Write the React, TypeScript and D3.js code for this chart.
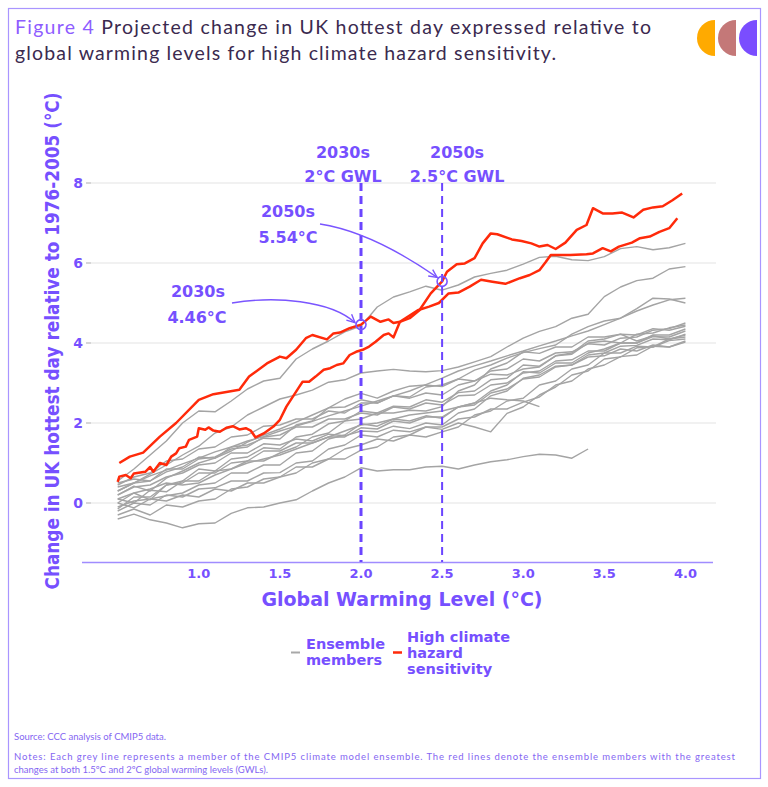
import React from "react";
import * as d3 from "d3";

// ---------- data ----------
const xTicks = [1.0, 1.5, 2.0, 2.5, 3.0, 3.5, 4.0];
const yTicks = [0, 2, 4, 6, 8];

// grey ensemble members, sampled every 0.1 °C GWL starting at 0.5
const greyStart = 0.5;
const greyStep = 0.1;
const greyHi = [0.55, 0.85, 1.2, 1.55, 2.0, 2.3, 2.28, 2.55, 2.85, 3.05, 3.12, 3.6, 3.85, 4.05, 4.28, 4.42, 4.9, 5.15, 5.28, 5.42, 5.32, 5.45, 5.65, 5.74, 5.82, 5.97, 6.14, 6.17, 6.08, 6.06, 6.16, 6.36, 6.41, 6.33, 6.38, 6.49];
const greyTwo = [0.3, 0.5, 0.72, 0.95, 1.2, 1.42, 1.75, 1.9, 2.2, 2.4, 2.6, 2.7, 2.82, 3.02, 3.08, 3.25, 3.3, 3.34, 3.3, 3.28, 3.31, 3.4, 3.53, 3.66, 3.9, 4.12, 4.29, 4.41, 4.62, 4.72, 5.16, 5.4, 5.56, 5.62, 5.85, 5.91];
const greyStraight = [0.4, 0.5, 0.68, 0.82, 0.98, 1.12, 1.28, 1.4, 1.55, 1.66, 1.8, 1.92, 2.04, 2.18, 2.3, 2.42, 2.55, 2.68, 2.8, 2.96, 3.12, 3.3, 3.43, 3.55, 3.68, 3.8, 3.93, 4.05, 4.18, 4.3, 4.46, 4.62, 4.8, 4.95, 5.08, 5.12];
const greyJag = [0.2, 0.42, 0.3, 0.62, 0.8, 1.0, 1.12, 1.3, 1.52, 1.7, 1.85, 2.02, 2.2, 2.38, 2.6, 2.74, 2.62, 2.8, 2.92, 2.95, 2.91, 3.1, 3.32, 3.45, 3.62, 3.76, 3.86, 3.95, 4.22, 4.41, 4.55, 4.62, 4.86, 5.12, 5.1, 5.0];
const greyC1 = [0.3, 0.5, 0.55, 0.78, 0.9, 1.15, 1.12, 1.4, 1.45, 1.62, 1.6, 1.95, 2.05, 2.38, 2.4, 2.58, 2.5, 2.68, 2.62, 2.75, 2.7, 2.95, 3.05, 3.3, 3.35, 3.6, 3.55, 3.75, 3.78, 3.98, 3.95, 4.12, 4.15, 4.32, 4.36, 4.5];
const greyC2 = [0.0, 0.25, 0.08, 0.45, 0.55, 0.85, 0.8, 1.1, 1.15, 1.38, 1.35, 1.65, 1.72, 1.98, 2.05, 2.3, 2.25, 2.42, 2.4, 2.58, 2.52, 2.76, 2.8, 3.08, 3.12, 3.45, 3.42, 3.68, 3.72, 4.0, 4.05, 4.0, 4.22, 4.25, 4.38, 4.45];
const greyC3 = [0.1, 0.0, 0.32, 0.28, 0.55, 0.55, 0.8, 0.85, 1.05, 1.05, 1.25, 1.4, 1.65, 1.75, 2.05, 2.1, 2.25, 2.25, 2.32, 2.3, 2.41, 2.8, 2.95, 3.35, 3.5, 3.78, 3.74, 3.9, 3.9, 4.15, 4.15, 4.22, 4.2, 4.36, 4.32, 4.42];
const greyC4 = [-0.1, 0.05, 0.1, 0.18, 0.25, 0.45, 0.5, 0.75, 0.75, 0.95, 0.95, 1.25, 1.3, 1.6, 1.7, 1.98, 1.92, 2.1, 2.05, 2.18, 2.12, 2.4, 2.5, 2.8, 2.95, 3.28, 3.25, 3.5, 3.5, 3.75, 3.85, 4.0, 4.0, 4.16, 4.15, 4.3];
const greyC5 = [0.2, 0.4, 0.45, 0.65, 0.75, 0.95, 1.0, 1.25, 1.25, 1.48, 1.45, 1.6, 1.55, 1.72, 1.68, 1.8, 1.78, 1.92, 1.86, 2.0, 1.95, 2.25, 2.35, 2.68, 2.8, 3.12, 3.2, 3.42, 3.45, 3.7, 3.75, 3.92, 3.94, 4.1, 4.08, 4.22];
const greyC6 = [-0.2, 0.0, -0.05, 0.2, 0.15, 0.35, 0.38, 0.55, 0.55, 0.75, 0.76, 1.0, 1.05, 1.35, 1.45, 1.7, 1.65, 1.82, 1.78, 1.9, 1.84, 2.0, 1.9, 1.78, 2.24, 2.4, 2.7, 2.9, 3.2, 3.3, 3.6, 3.65, 3.88, 3.9, 4.1, 4.15];
const greyC7 = [0.0, -0.12, 0.1, 0.05, 0.2, 0.15, 0.35, 0.3, 0.5, 0.5, 0.65, 0.75, 1.0, 1.1, 1.35, 1.45, 1.6, 1.55, 1.7, 1.65, 1.78, 1.9, 2.2, 2.3, 2.55, 2.62, 2.95, 3.05, 3.35, 3.45, 3.75, 3.75, 3.92, 3.9, 4.06, 4.1];
const greyC8 = [-0.3, -0.15, -0.3, -0.05, -0.1, 0.05, 0.1, 0.35, 0.4, 0.6, 0.65, 0.9, 0.9, 1.1, 1.1, 1.32, 1.4, 1.65, 1.7, 1.9, 1.9, 2.1, 2.15, 2.35, 2.35, 2.52, 2.65, 2.95, 3.05, 3.35, 3.45, 3.66, 3.7, 3.92, 3.9, 4.05];
const greyC9 = [0.45, 0.65, 0.75, 1.05, 1.1, 1.35, 1.4, 1.65, 1.7, 1.92, 1.95, 2.1, 2.1, 2.3, 2.25, 2.5, 2.5, 2.68, 2.65, 2.9, 2.95, 3.1, 3.05, 3.22, 3.2, 3.35, 3.4, 3.68, 3.75, 4.05, 4.1, 4.22, 4.05, 4.18, 4.1, 4.2];
const greyC10 = [0.5, 0.6, 0.55, 0.85, 0.85, 1.1, 1.15, 1.35, 1.4, 1.65, 1.7, 1.9, 1.9, 2.1, 2.1, 2.25, 2.2, 2.4, 2.35, 2.5, 2.45, 2.68, 2.7, 2.95, 3.0, 3.25, 3.3, 3.55, 3.58, 3.8, 3.8, 4.0, 4.0, 4.2, 4.2, 4.35];
const greyC11 = [-0.15, 0.15, 0.15, 0.45, 0.5, 0.75, 0.75, 1.0, 1.05, 1.3, 1.3, 1.5, 1.5, 1.65, 1.65, 1.88, 1.85, 2.05, 2.0, 2.15, 2.15, 2.4, 2.45, 2.75, 2.85, 3.1, 3.15, 3.4, 3.45, 3.65, 3.68, 3.85, 3.8, 3.95, 3.9, 4.02];
const greyEarly = [0.1, 0.25, 0.35, 0.5, 0.45, 0.5, 0.7, 0.85, 1.0, 1.1, 1.2, 1.35, 1.5, 1.65, 1.8, 1.95, 2.0, 2.1, 2.2, 2.25, 2.3, 2.4, 2.5, 2.62, 2.58, 2.55, 2.41];
const greyLow = [-0.4, -0.28, -0.42, -0.5, -0.62, -0.52, -0.5, -0.26, -0.12, -0.1, 0.0, 0.08, 0.3, 0.5, 0.65, 0.88, 0.8, 0.83, 0.83, 0.9, 0.92, 0.85, 0.95, 1.03, 1.08, 1.16, 1.22, 1.2, 1.12, 1.35];

const greySeries = [greyLow, greyEarly, greyC11, greyC10, greyC9, greyC8, greyC7, greyC6, greyC5, greyC4, greyC3, greyC2, greyC1, greyJag, greyStraight, greyTwo, greyHi];

// red: high climate hazard sensitivity members, [GWL, change]
const redA: [number, number][] = [[0.51, 1.0], [0.575, 1.16], [0.657, 1.26], [0.76, 1.66], [0.86, 2.0], [1.0, 2.58], [1.09, 2.72], [1.25, 2.83], [1.31, 3.16], [1.42, 3.49], [1.5, 3.66], [1.54, 3.62], [1.6, 3.83], [1.66, 4.12], [1.7, 4.2], [1.79, 4.09], [1.83, 4.24], [1.87, 4.26], [1.93, 4.37], [2.0, 4.46], [2.06, 4.66], [2.12, 4.53], [2.17, 4.59], [2.2, 4.5], [2.24, 4.53], [2.35, 4.82], [2.42, 4.91], [2.48, 5.0], [2.54, 5.24], [2.6, 5.26], [2.67, 5.41], [2.74, 5.58], [2.81, 5.53], [2.89, 5.48], [2.98, 5.62], [3.04, 5.7], [3.1, 5.82], [3.14, 6.03], [3.17, 6.2], [3.29, 6.2], [3.39, 6.22], [3.43, 6.24], [3.49, 6.37], [3.54, 6.29], [3.59, 6.41], [3.67, 6.51], [3.72, 6.62], [3.78, 6.66], [3.84, 6.78], [3.9, 6.87], [3.95, 7.12]];
const redB: [number, number][] = [[0.5, 0.53], [0.51, 0.66], [0.55, 0.7], [0.58, 0.62], [0.6, 0.74], [0.67, 0.78], [0.7, 0.9], [0.72, 0.78], [0.76, 1.0], [0.8, 0.95], [0.83, 1.16], [0.86, 1.24], [0.88, 1.37], [0.92, 1.41], [0.94, 1.58], [0.99, 1.66], [1.0, 1.87], [1.04, 1.83], [1.06, 1.89], [1.09, 1.81], [1.13, 1.78], [1.17, 1.88], [1.21, 1.92], [1.25, 1.84], [1.29, 1.87], [1.32, 1.81], [1.35, 1.64], [1.4, 1.74], [1.46, 1.91], [1.5, 2.08], [1.54, 2.41], [1.58, 2.66], [1.62, 2.91], [1.64, 3.03], [1.68, 3.03], [1.72, 3.16], [1.77, 3.33], [1.81, 3.37], [1.85, 3.45], [1.89, 3.49], [1.93, 3.7], [1.97, 3.78], [2.01, 3.83], [2.05, 3.91], [2.09, 4.03], [2.14, 4.2], [2.17, 4.24], [2.2, 4.14], [2.24, 4.53], [2.3, 4.62], [2.36, 4.82], [2.43, 5.24], [2.5, 5.54], [2.53, 5.78], [2.59, 5.97], [2.64, 5.99], [2.7, 6.12], [2.75, 6.49], [2.8, 6.74], [2.84, 6.72], [2.93, 6.59], [2.99, 6.55], [3.05, 6.49], [3.1, 6.41], [3.15, 6.45], [3.2, 6.35], [3.26, 6.51], [3.33, 6.83], [3.39, 6.95], [3.43, 7.37], [3.49, 7.24], [3.55, 7.24], [3.61, 7.26], [3.68, 7.14], [3.74, 7.33], [3.8, 7.39], [3.86, 7.42], [3.92, 7.57], [3.98, 7.74]];
const redSeries = [redA, redB];

const gwlX = [2.0, 2.5];
const gwlTop = ["2030s", "2050s"];
const gwlBottom = ["2°C GWL", "2.5°C GWL"];

const calloutX = [2.0, 2.5];
const calloutY = [4.46, 5.54];
const calloutLabel = ["2030s", "2050s"];
const calloutValue = ["4.46°C", "5.54°C"];

// ---------- style ----------
const PURPLE = "#7650FF";
const BOLD = "'DejaVu Sans', sans-serif";
const TITLE_FONT = "Lato, 'DejaVu Sans', sans-serif";

export default function App() {
  const x = d3.scaleLinear().domain([0.28, 4.17]).range([82, 713]);
  const y = d3.scaleLinear().domain([-1.5, 8.5]).range([563, 163]);

  const greyLine = d3
    .line<number>()
    .x((_, i) => x(greyStart + i * greyStep))
    .y((d) => y(d));
  const redLine = d3
    .line<[number, number]>()
    .x((d) => x(d[0]))
    .y((d) => y(d[1]));

  // callout arrows (annotation geometry)
  const c1x = x(calloutX[0]);
  const c1y = y(calloutY[0]);
  const c2x = x(calloutX[1]);
  const c2y = y(calloutY[1]);
  const p1 = d3.path();
  p1.moveTo(232, 303);
  p1.bezierCurveTo(275, 296, 330, 300, c1x - 6, c1y - 2);
  const p2 = d3.path();
  p2.moveTo(320, 224);
  p2.quadraticCurveTo(372, 232, c2x - 5, c2y - 4);

  const head = (tx: number, ty: number, ang: number) => {
    const L = 9;
    const a1 = ang + Math.PI - 0.45;
    const a2 = ang + Math.PI + 0.45;
    return `M${tx + L * Math.cos(a1)},${ty + L * Math.sin(a1)}L${tx},${ty}L${tx + L * Math.cos(a2)},${ty + L * Math.sin(a2)}`;
  };
  const ang1 = Math.atan2(c1y - 2 - 300, c1x - 6 - 330);
  const ang2 = Math.atan2(c2y - 4 - 232, c2x - 5 - 372);

  return (
    <svg
      width={768}
      height={787}
      style={{ position: "absolute", left: 0, top: 0, background: "#fff" }}
    >
      {/* frame */}
      <rect x={8.5} y={8.5} width={752} height={770} fill="#fff" stroke="#A995FF" strokeWidth={1.2} />

      {/* title */}
      <text x={15} y={34} fontFamily={TITLE_FONT} fontSize={19.5} fill="#3B2A4F" textLength={636} lengthAdjust="spacing">
        <tspan fill="#8E5CFF">Figure 4</tspan> Projected change in UK hottest day expressed relative to
      </text>
      <text x={15} y={60} fontFamily={TITLE_FONT} fontSize={19.5} fill="#3B2A4F" textLength={541} lengthAdjust="spacing">
        global warming levels for high climate hazard sensitivity.
      </text>

      {/* logo */}
      <path d="M715,20 A18,18 0 0 0 715,56 Z" fill="#FFAA00" />
      <path d="M736,20 A18,18 0 0 0 736,56 Z" fill="#C47878" />
      <path d="M757,20 A18,18 0 0 0 757,56 Z" fill="#7A4DFF" />

      {/* gridlines and y ticks */}
      {yTicks.map((t) => (
        <g key={t}>
          <line x1={86} x2={716} y1={y(t)} y2={y(t)} stroke="#E3E3E3" strokeWidth={1.2} />
          <line x1={86} x2={91} y1={y(t)} y2={y(t)} stroke="#BBBBBB" strokeWidth={1} />
          <text x={83} y={y(t)} dy="0.36em" textAnchor="end" fontFamily={BOLD} fontWeight="bold" fontSize={14} fill={PURPLE}>
            {t}
          </text>
        </g>
      ))}

      {/* x axis */}
      <line x1={82} x2={713} y1={562.5} y2={562.5} stroke="#A08CFF" strokeWidth={1.3} />
      {xTicks.map((t) => (
        <text key={t} x={x(t)} y={578} textAnchor="middle" fontFamily={BOLD} fontWeight="bold" fontSize={13} fill={PURPLE}>
          {t.toFixed(1)}
        </text>
      ))}
      <text x={402} y={606} textAnchor="middle" fontFamily={BOLD} fontWeight="bold" fontSize={19} fill={PURPLE} textLength={281} lengthAdjust="spacingAndGlyphs">
        Global Warming Level (°C)
      </text>
      <text
        transform="translate(59,341) rotate(-90)"
        textAnchor="middle"
        fontFamily={BOLD}
        fontWeight="bold"
        fontSize={19.5}
        fill={PURPLE}
        textLength={497}
        lengthAdjust="spacingAndGlyphs"
      >
        Change in UK hottest day relative to 1976-2005 (°C)
      </text>

      {/* grey ensemble */}
      {greySeries.map((s, i) => (
        <path key={i} d={greyLine(s) || ""} fill="none" stroke="#A4A4A4" strokeWidth={1.4} strokeLinejoin="round" />
      ))}

      {/* red members */}
      {redSeries.map((s, i) => (
        <path key={i} d={redLine(s) || ""} fill="none" stroke="#FF2A0A" strokeWidth={2.5} strokeLinejoin="round" />
      ))}

      {/* GWL dashed markers */}
      {gwlX.map((g, i) => (
        <g key={g}>
          <line
            x1={x(g)}
            x2={x(g)}
            y1={y(8)}
            y2={562}
            stroke="#6B45FF"
            strokeWidth={i === 0 ? 3 : 2}
            strokeDasharray="8,5"
          />
          <text x={x(g) + (i === 0 ? -18 : 15)} y={158} textAnchor="middle" fontFamily={BOLD} fontWeight="bold" fontSize={16} fill={PURPLE}>
            {gwlTop[i]}
          </text>
          <text x={x(g) + (i === 0 ? -18 : 15)} y={182} textAnchor="middle" fontFamily={BOLD} fontWeight="bold" fontSize={16} fill={PURPLE}>
            {gwlBottom[i]}
          </text>
        </g>
      ))}

      {/* callouts */}
      {calloutX.map((cx, i) => (
        <circle key={cx} cx={x(cx)} cy={y(calloutY[i])} r={5} fill="none" stroke="#7A55FF" strokeWidth={1.6} />
      ))}
      <path d={p1.toString()} fill="none" stroke="#7A55FF" strokeWidth={1.4} />
      <path d={head(c1x - 6, c1y - 2, ang1)} fill="none" stroke="#7A55FF" strokeWidth={1.4} />
      <path d={p2.toString()} fill="none" stroke="#7A55FF" strokeWidth={1.4} />
      <path d={head(c2x - 5, c2y - 4, ang2)} fill="none" stroke="#7A55FF" strokeWidth={1.4} />

      <text x={198} y={297} textAnchor="middle" fontFamily={BOLD} fontWeight="bold" fontSize={16} fill={PURPLE}>{calloutLabel[0]}</text>
      <text x={197} y={323} textAnchor="middle" fontFamily={BOLD} fontWeight="bold" fontSize={16} fill={PURPLE}>{calloutValue[0]}</text>
      <text x={288} y={217} textAnchor="middle" fontFamily={BOLD} fontWeight="bold" fontSize={16} fill={PURPLE}>{calloutLabel[1]}</text>
      <text x={288} y={243} textAnchor="middle" fontFamily={BOLD} fontWeight="bold" fontSize={16} fill={PURPLE}>{calloutValue[1]}</text>

      {/* legend */}
      <line x1={291} x2={300} y1={652.5} y2={652.5} stroke="#A8A8A8" strokeWidth={2} />
      <text fontFamily={BOLD} fontWeight="bold" fontSize={14.5} fill={PURPLE}>
        <tspan x={306} y={649}>Ensemble</tspan>
        <tspan x={306} y={665}>members</tspan>
      </text>
      <line x1={393} x2={402} y1={652.5} y2={652.5} stroke="#FF2A0A" strokeWidth={2.5} />
      <text fontFamily={BOLD} fontWeight="bold" fontSize={14.5} fill={PURPLE}>
        <tspan x={407} y={641.5}>High climate</tspan>
        <tspan x={407} y={657.5}>hazard</tspan>
        <tspan x={407} y={673.5}>sensitivity</tspan>
      </text>

      {/* footer */}
      <text x={14} y={740} fontFamily={TITLE_FONT} fontSize={9.5} fill="#8466F2">
        Source: CCC analysis of CMIP5 data.
      </text>
      <text x={14} y={760} fontFamily={TITLE_FONT} fontSize={9.5} fill="#8466F2" textLength={721} lengthAdjust="spacing">
        Notes: Each grey line represents a member of the CMIP5 climate model ensemble. The red lines denote the ensemble members with the greatest
      </text>
      <text x={14} y={773} fontFamily={TITLE_FONT} fontSize={9.5} fill="#8466F2">
        changes at both 1.5ºC and 2ºC global warming levels (GWLs).
      </text>
    </svg>
  );
}
